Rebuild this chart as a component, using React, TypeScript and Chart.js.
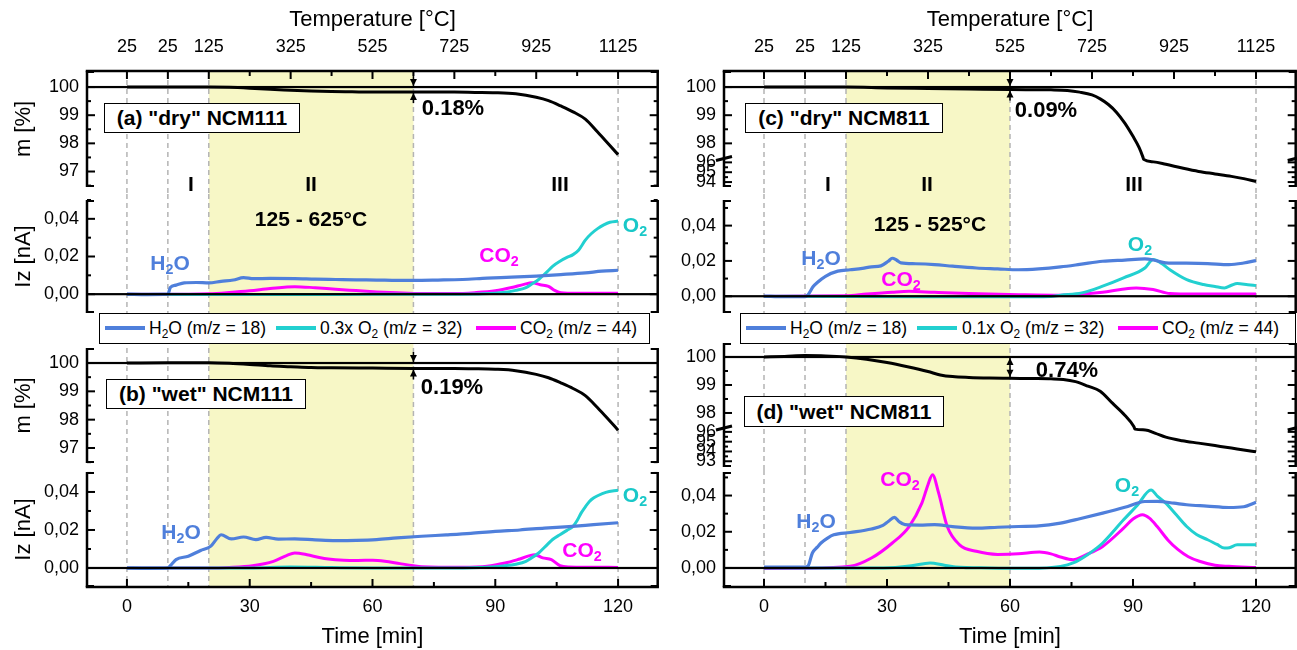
import React, { useEffect, useRef } from "react";
import { Chart, registerables } from "chart.js";

Chart.register(...registerables);

const FONT = "'Liberation Sans', Arial, Helvetica, sans-serif";
Chart.defaults.font.family = FONT;

const C_H2O = "#4f7fdb";
const C_O2 = "#22d0d0";
const C_O2_TXT = "#19c8c8";
const C_CO2 = "#ff00ff";
const BAND = "#f7f7c6";

// ---------- axis ticks ----------
const timeTicks = [0, 30, 60, 90, 120];
const timeMinor = [15, 45, 75, 105];
const tempTickTimes = [0, 10, 20, 40, 60, 80, 100, 120];
const tempLabels = ["25", "25", "125", "325", "525", "725", "925", "1125"];
const tempMinor = [30, 50, 70, 90, 110];
const dashTimesLeft = [0, 10, 20, 70, 120];
const dashTimesRight = [0, 10, 20, 60, 120];
const massTicksAB = [100, 99, 98, 97];
const massMinorAB = [99.5, 98.5, 97.5, 96.5];
const massTicksC = [100, 99, 98, 96, 95, 94];
const massMinorC = [99.5, 98.5, 95.5, 94.5];
const massTicksD = [100, 99, 98, 96, 95, 94, 93];
const massMinorD = [99.5, 98.5, 95.5, 94.5, 93.5];
const ionTicks = [0, 0.02, 0.04];
const ionMinor = [0.01, 0.03, 0.05];

// ---------- (a) "dry" NCM111 ----------
const aMassT = [0, 10, 20, 25, 30, 35, 40, 45, 50, 55, 60, 70, 80, 85, 90, 95, 100, 103, 106, 109, 112, 115, 118, 120];
const aMass = [100.0, 100.0, 100.0, 99.99, 99.96, 99.92, 99.89, 99.86, 99.84, 99.83, 99.82, 99.82, 99.82, 99.81, 99.8, 99.76, 99.64, 99.52, 99.33, 99.12, 98.86, 98.4, 97.92, 97.6];
const aH2OT = [0, 5, 10, 10.6, 12, 14, 17, 20, 23, 26, 28.5, 31, 35, 41, 46, 51, 56, 61, 66, 70, 76, 82, 88, 94, 100, 106, 112, 116, 120];
const aH2O = [0, -0.0002, 0, 0.0035, 0.0048, 0.006, 0.0062, 0.006, 0.0068, 0.0075, 0.0088, 0.0082, 0.0084, 0.0083, 0.008, 0.0078, 0.0076, 0.0075, 0.0073, 0.0073, 0.0075, 0.0078, 0.0085, 0.009, 0.0096, 0.0104, 0.0113, 0.0122, 0.0127];
const aO2T = [0, 20, 40, 60, 80, 87, 92, 95, 97.5, 99, 100.6, 102.7, 104, 105.8, 107.5, 109, 110.4, 112, 113.5, 115, 116.5, 118, 120];
const aO2 = [0, -0.0002, -0.0002, -0.0001, 0, 0.0002, 0.0009, 0.002, 0.0035, 0.0055, 0.0078, 0.012, 0.0148, 0.0175, 0.0195, 0.021, 0.0235, 0.0287, 0.0322, 0.0348, 0.0368, 0.0382, 0.0388];
const aCO2T = [0, 15, 20, 25, 30, 35, 41, 46, 51, 56, 61, 66, 72, 80, 85, 90, 94, 97, 99, 101, 103, 104.5, 106, 110, 120];
const aCO2 = [0, 0, 0.0002, 0.0009, 0.0018, 0.003, 0.004, 0.0034, 0.0026, 0.0019, 0.0012, 0.0007, 0.0003, 0.0003, 0.0008, 0.0018, 0.0035, 0.0052, 0.006, 0.005, 0.0042, 0.002, 0.0008, 0.0005, 0.0005];

// ---------- (b) "wet" NCM111 ----------
const bMassT = [0, 10, 20, 25, 30, 35, 40, 45, 50, 60, 70, 80, 85, 90, 95, 100, 103, 106, 109, 112, 115, 118, 120];
const bMass = [100.0, 100.01, 100.01, 99.99, 99.95, 99.9, 99.87, 99.84, 99.83, 99.82, 99.81, 99.81, 99.8, 99.78, 99.73, 99.6, 99.48, 99.3, 99.1, 98.85, 98.42, 97.95, 97.63];
const bH2OT = [0, 5, 10, 10.6, 12, 15, 18, 20.5, 22, 23, 25.5, 28.5, 31.5, 34, 37, 41, 46, 51, 56, 61, 66, 72, 78, 84, 90, 96, 102, 108, 114, 120];
const bH2O = [0, -0.0002, 0, 0.0012, 0.0044, 0.0062, 0.0092, 0.0115, 0.0155, 0.0175, 0.0153, 0.0163, 0.0149, 0.0161, 0.0152, 0.0153, 0.0148, 0.0144, 0.0145, 0.0149, 0.0158, 0.0167, 0.0174, 0.0182, 0.0193, 0.02, 0.021, 0.0218, 0.0228, 0.0238];
const bO2T = [0, 30, 40, 50, 60, 80, 88, 92.4, 95, 97.5, 99, 100.6, 102.7, 104, 105.8, 107.5, 109, 110, 111, 112, 113, 114, 115, 117, 120];
const bO2 = [0, 0, 0.0005, 0.0002, 0, 0, 0.0004, 0.0012, 0.002, 0.0035, 0.0055, 0.0079, 0.0123, 0.015, 0.0175, 0.0198, 0.0219, 0.025, 0.029, 0.0322, 0.035, 0.0368, 0.038, 0.0398, 0.0409];
const bCO2T = [0, 20, 25, 30.7, 35.8, 39, 41, 44, 47, 49.2, 53, 56.4, 60, 63, 66.7, 70, 72, 82, 88, 92.4, 96, 99.6, 101.6, 103.7, 105.8, 108, 113, 120];
const bCO2 = [0, 0, 0.0003, 0.0012, 0.0035, 0.0065, 0.0079, 0.007, 0.0055, 0.0047, 0.0041, 0.004, 0.0041, 0.0036, 0.0023, 0.0012, 0.0007, 0.0004, 0.0009, 0.0026, 0.0047, 0.007, 0.0053, 0.0044, 0.0012, 0.0005, 0.0004, 0.0003];

// ---------- (c) "dry" NCM811 ----------
const cMassT = [0, 20, 30, 40, 50, 60, 70, 74, 77, 80, 82, 84, 86, 88, 90, 91.5, 92.4, 92.6, 95, 98, 102, 106, 110, 114, 117, 120];
const cMass = [100.0, 100.0, 99.97, 99.95, 99.93, 99.91, 99.9, 99.88, 99.82, 99.72, 99.58, 99.38, 99.1, 98.72, 98.25, 97.85, 97.52, 96.3, 96.05, 95.8, 95.42, 95.08, 94.83, 94.58, 94.35, 94.06];
const cH2OT = [0, 5, 10, 10.8, 12, 13, 15, 18, 21, 24, 26.2, 28.5, 30.3, 31.3, 32.3, 33.4, 37, 41.6, 46, 51.8, 57, 62, 67, 72.3, 77, 82.6, 88, 92.9, 95, 98, 103, 108.2, 113.4, 117, 120];
const cH2O = [0, -0.0003, -0.0003, 0.001, 0.0055, 0.0078, 0.0113, 0.0142, 0.015, 0.0158, 0.0166, 0.0172, 0.0198, 0.0215, 0.0205, 0.0189, 0.0184, 0.0179, 0.017, 0.016, 0.0155, 0.015, 0.0155, 0.0166, 0.018, 0.0198, 0.0205, 0.0211, 0.0205, 0.0189, 0.0187, 0.0185, 0.0179, 0.0188, 0.0202];
const cO2T = [0, 20, 40, 60, 70, 72.3, 77.5, 82.6, 87.7, 92.9, 94.9, 97, 99, 103.1, 107.2, 110, 112.3, 114, 115.4, 118, 120];
const cO2 = [0, -0.0002, -0.0003, -0.0003, -0.0001, 0.0006, 0.0019, 0.0057, 0.0104, 0.016, 0.0208, 0.0185, 0.015, 0.0094, 0.0066, 0.0055, 0.0047, 0.0062, 0.0072, 0.0065, 0.006];
const cCO2T = [0, 20, 25, 31.3, 35.4, 41.6, 50, 62.1, 72.3, 82.6, 87, 90.8, 94.9, 99, 105, 120];
const cCO2 = [0, 0.0002, 0.0012, 0.0023, 0.0028, 0.0022, 0.0015, 0.0009, 0.0006, 0.0023, 0.0038, 0.0047, 0.0038, 0.0015, 0.0012, 0.0013];

// ---------- (d) "wet" NCM811 ----------
const dMassT = [0, 5, 10, 15, 20, 25, 30, 35, 40, 43, 46, 50, 55, 60, 65, 70, 73, 76, 79, 82, 85, 88, 90.2, 90.5, 93, 95.5, 98, 102, 106, 110, 114, 117, 120];
const dMass = [100.0, 100.02, 100.05, 100.04, 100.0, 99.92, 99.8, 99.65, 99.48, 99.36, 99.3, 99.27, 99.25, 99.24, 99.23, 99.22, 99.2, 99.12, 98.96, 98.78, 98.35, 97.92, 97.52, 96.28, 96.2, 95.85, 95.46, 95.1, 94.85, 94.6, 94.35, 94.15, 93.97];
const dH2OT = [0, 5, 10, 10.8, 11.8, 13, 13.9, 15.5, 17, 21, 26.2, 29, 30.3, 31.8, 33, 34.4, 38, 41.6, 46, 51.8, 57, 62.1, 67, 72.3, 77, 82.6, 88, 92.9, 96, 100, 103.1, 108, 113.4, 117, 120];
const dH2O = [0.0005, 0.0005, 0.0005, 0.0013, 0.0083, 0.0115, 0.0138, 0.0165, 0.0183, 0.0196, 0.0215, 0.0235, 0.0257, 0.028, 0.0255, 0.0239, 0.0237, 0.0239, 0.0228, 0.022, 0.0225, 0.0229, 0.0232, 0.0248, 0.0272, 0.0303, 0.0335, 0.0367, 0.0368, 0.0358, 0.0349, 0.0342, 0.0334, 0.0338, 0.0363];
const dO2T = [0, 25, 32, 36, 40.5, 44, 46.7, 55, 65, 72.3, 75.4, 79, 82.6, 87.7, 91, 94.4, 96, 98, 100.5, 103.1, 105.5, 108.2, 110.5, 112.3, 113.5, 115.4, 118, 120];
const dO2 = [0, 0, 0.0003, 0.0012, 0.0028, 0.0015, 0.0006, 0, -0.0002, 0.0009, 0.0028, 0.0075, 0.0138, 0.0266, 0.0345, 0.0431, 0.0395, 0.0358, 0.0295, 0.0229, 0.0185, 0.0156, 0.013, 0.011, 0.0112, 0.0128, 0.0128, 0.0128];
const dCO2T = [0, 10, 21, 26.2, 31.3, 35.4, 38.5, 40, 41.1, 42.6, 44.7, 47.7, 51.8, 57, 62, 67.2, 70, 72.3, 75.4, 78.5, 82.6, 87.7, 90, 92.3, 94, 95.9, 98.5, 101, 103.5, 106.2, 110, 113.4, 120];
const dCO2 = [-0.0003, -0.0002, 0.0009, 0.0055, 0.0138, 0.0229, 0.0358, 0.046, 0.0515, 0.0413, 0.0229, 0.0128, 0.0092, 0.0075, 0.0078, 0.0088, 0.0078, 0.0061, 0.0046, 0.0073, 0.0119, 0.022, 0.027, 0.0294, 0.0275, 0.0229, 0.0155, 0.0101, 0.0062, 0.0037, 0.0015, 0.0009, 0.0002];

// mass-loss annotations
const dropA = { t: 70, v1: 100, v2: 99.82, inner: false };
const dropB = { t: 70, v1: 100, v2: 99.81, inner: false };
const dropC = { t: 60, v1: 100, v2: 99.91, inner: false };
const dropD = { t: 60, v1: 100, v2: 99.26, inner: true };

// axis break for the NCM811 mass panels
const BRK = { hi: 97.5, lo: 96.3, dLo: 97.43, k: 0.35 };

function brkMap(m: number, b: any): number {
  if (!b) return m;
  if (m >= b.hi) return m;
  if (m >= b.lo) return b.dLo + ((m - b.lo) / (b.hi - b.lo)) * (b.hi - b.dLo);
  return b.dLo - (b.lo - m) * b.k;
}

function hline(ctx: any, x0: number, x1: number, y: number, w: number) {
  ctx.fillRect(Math.min(x0, x1), y - w / 2, Math.abs(x1 - x0), w);
}
function vline(ctx: any, x: number, y0: number, y1: number, w: number) {
  ctx.fillRect(x - w / 2, Math.min(y0, y1), w, Math.abs(y1 - y0));
}

const framePlugin: any = {
  id: "frame",
  beforeDatasetsDraw(chart: any, _a: any, o: any) {
    const { ctx, chartArea: a } = chart;
    const xs = chart.scales.x;
    const y0 = o.bandTop === "area" ? a.top : 0;
    const y1 = o.bandBottom === "area" ? a.bottom : chart.height;
    ctx.save();
    ctx.fillStyle = BAND;
    const b0 = xs.getPixelForValue(o.band[0]);
    const b1 = xs.getPixelForValue(o.band[1]);
    ctx.fillRect(b0, y0, b1 - b0, y1 - y0);
    ctx.strokeStyle = "#b4b4b4";
    ctx.lineWidth = 1.5;
    ctx.setLineDash([5, 4]);
    for (const t of o.dashes) {
      const px = xs.getPixelForValue(t);
      ctx.beginPath();
      ctx.moveTo(px, y0);
      ctx.lineTo(px, y1);
      ctx.stroke();
    }
    ctx.restore();
  },
  afterDraw(chart: any, _a: any, o: any) {
    const ctx = chart.ctx;
    const a = chart.chartArea;
    const xs = chart.scales.x;
    const ys = chart.scales.y;
    const brk = o.brk;
    const py = (v: number) => ys.getPixelForValue(brkMap(v, brk));
    const L = a.left + 1;
    const R = a.right - 1.3;
    const T = a.top;
    const B = a.bottom;
    ctx.save();
    ctx.setLineDash([]);
    ctx.globalAlpha = 1;
    ctx.fillStyle = "#000";
    ctx.strokeStyle = "#000";
    // reference line
    hline(ctx, L, R, py(o.refY), 2.2);
    // spines
    vline(ctx, L, T, B, 2.5);
    vline(ctx, R, T, B, 2.5);
    // bracket ends
    hline(ctx, L, L + 7, T + 1, 2);
    hline(ctx, L, L + 7, B - 1, 2);
    hline(ctx, R, R - 7, T + 1, 2);
    hline(ctx, R, R - 7, B - 1, 2);
    // y ticks
    const majors: number[] = Array.from(o.yMajor);
    const minors: number[] = Array.from(o.yMinor);
    for (const v of majors) {
      const y = py(v);
      if (y < T - 0.5 || y > B + 0.5) continue;
      hline(ctx, L, L + 8, y, 2);
      hline(ctx, R, R - 8, y, 2);
    }
    for (const v of minors) {
      const y = py(v);
      if (y < T - 0.5 || y > B + 0.5) continue;
      hline(ctx, L, L + 4, y, 2);
      hline(ctx, R, R - 4, y, 2);
    }
    if (o.top) {
      hline(ctx, L - 1.25, R + 1.25, T, 2.5);
      for (const t of tempTickTimes) vline(ctx, xs.getPixelForValue(t), T, T + 8, 2);
      for (const t of tempMinor) vline(ctx, xs.getPixelForValue(t), T, T + 5, 2);
    }
    if (o.bottom) {
      hline(ctx, L - 1.25, R + 1.25, B, 2.5);
      for (const t of timeTicks) vline(ctx, xs.getPixelForValue(t), B, B - 8, 2);
      for (const t of timeMinor) vline(ctx, xs.getPixelForValue(t), B, B - 5, 2);
    }
    // axis break marks
    if (brk) {
      const yb = ys.getPixelForValue((brk.hi + brk.dLo) / 2);
      ctx.lineWidth = 3;
      ctx.beginPath();
      for (const sx of [L, R]) {
        ctx.moveTo(sx - 8, yb + 2);
        ctx.lineTo(sx + 8, yb - 2);
      }
      ctx.stroke();
    }
    // mass-loss arrows
    const ar = o.arrow;
    if (ar) {
      const x = xs.getPixelForValue(ar.t);
      const p1 = py(ar.v1);
      const p2 = py(ar.v2);
      const head = (tipY: number, dir: number) => {
        ctx.beginPath();
        ctx.moveTo(x, tipY);
        ctx.lineTo(x - 3.5, tipY - dir * 7);
        ctx.lineTo(x + 3.5, tipY - dir * 7);
        ctx.closePath();
        ctx.fill();
      };
      if (ar.inner) {
        vline(ctx, x, p1, p2, 1.5);
        head(p1 + 1, -1);
        head(p2 - 1, 1);
      } else {
        vline(ctx, x, p1 - 11, p1, 1.5);
        vline(ctx, x, p2, p2 + 11, 1.5);
        head(p1 - 1, 1);
        head(p2 + 1, -1);
      }
    }
    ctx.restore();
  },
};

type Series = { t: number[]; v: number[]; color: string; width: number };
type PanelDef = {
  box: number[];
  area: { L: number; T: number; R: number; B: number };
  yMin: number;
  yMax: number;
  kind: "mass" | "ion";
  yLabels: number[];
  yMinor: number[];
  brk: any;
  series: Series[];
  top: boolean;
  bottom: boolean;
  yTitle: string | null;
  refY: number;
  band: number[];
  dashes: number[];
  bandTop: string;
  bandBottom: string;
  arrow: any;
};

const ionSeries = (ht: number[], h: number[], ot: number[], ov: number[], ct: number[], cv: number[]): Series[] => [
  { t: ht, v: h, color: C_H2O, width: 3.2 },
  { t: ot, v: ov, color: C_O2, width: 3 },
  { t: ct, v: cv, color: C_CO2, width: 3 },
];

const LEFT_AREA = { L: 86, R: 659 };
const RIGHT_AREA = { L: 723, R: 1297 };

const panels: PanelDef[] = [
  {
    box: [0, 0, 662, 194], area: { ...LEFT_AREA, T: 71, B: 187 }, yMin: 96.45, yMax: 100.57, kind: "mass",
    yLabels: massTicksAB, yMinor: massMinorAB, brk: null, series: [{ t: aMassT, v: aMass, color: "#000", width: 3 }],
    top: true, bottom: false, yTitle: "m [%]", refY: 100, band: [20, 70], dashes: dashTimesLeft, bandTop: "area", bandBottom: "canvas", arrow: dropA,
  },
  {
    box: [0, 194, 662, 136], area: { ...LEFT_AREA, T: 200, B: 313 }, yMin: -0.01, yMax: 0.05, kind: "ion",
    yLabels: ionTicks, yMinor: ionMinor, brk: null, series: ionSeries(aH2OT, aH2O, aO2T, aO2, aCO2T, aCO2),
    top: false, bottom: false, yTitle: "Iz [nA]", refY: 0, band: [20, 70], dashes: dashTimesLeft, bandTop: "canvas", bandBottom: "canvas", arrow: null,
  },
  {
    box: [0, 330, 662, 138], area: { ...LEFT_AREA, T: 348, B: 463 }, yMin: 96.47, yMax: 100.53, kind: "mass",
    yLabels: massTicksAB, yMinor: massMinorAB, brk: null, series: [{ t: bMassT, v: bMass, color: "#000", width: 3 }],
    top: false, bottom: false, yTitle: "m [%]", refY: 100, band: [20, 70], dashes: dashTimesLeft, bandTop: "canvas", bandBottom: "canvas", arrow: dropB,
  },
  {
    box: [0, 468, 662, 182], area: { ...LEFT_AREA, T: 472, B: 587 }, yMin: -0.01, yMax: 0.0505, kind: "ion",
    yLabels: ionTicks, yMinor: ionMinor, brk: null, series: ionSeries(bH2OT, bH2O, bO2T, bO2, bCO2T, bCO2),
    top: false, bottom: true, yTitle: "Iz [nA]", refY: 0, band: [20, 70], dashes: dashTimesLeft, bandTop: "canvas", bandBottom: "area", arrow: null,
  },
  {
    box: [662, 0, 635, 194], area: { ...RIGHT_AREA, T: 71, B: 187 }, yMin: 96.45, yMax: 100.57, kind: "mass",
    yLabels: massTicksC, yMinor: massMinorC, brk: BRK, series: [{ t: cMassT, v: cMass, color: "#000", width: 3 }],
    top: true, bottom: false, yTitle: null, refY: 100, band: [20, 60], dashes: dashTimesRight, bandTop: "area", bandBottom: "canvas", arrow: dropC,
  },
  {
    box: [662, 194, 635, 136], area: { ...RIGHT_AREA, T: 200, B: 313 }, yMin: -0.0095, yMax: 0.0545, kind: "ion",
    yLabels: ionTicks, yMinor: ionMinor, brk: null, series: ionSeries(cH2OT, cH2O, cO2T, cO2, cCO2T, cCO2),
    top: false, bottom: false, yTitle: null, refY: 0, band: [20, 60], dashes: dashTimesRight, bandTop: "canvas", bandBottom: "canvas", arrow: null,
  },
  {
    box: [662, 330, 635, 140], area: { ...RIGHT_AREA, T: 343, B: 467 }, yMin: 96.07, yMax: 100.5, kind: "mass",
    yLabels: massTicksD, yMinor: massMinorD, brk: BRK, series: [{ t: dMassT, v: dMass, color: "#000", width: 3 }],
    top: false, bottom: false, yTitle: null, refY: 100, band: [20, 60], dashes: dashTimesRight, bandTop: "canvas", bandBottom: "canvas", arrow: dropD,
  },
  {
    box: [662, 470, 635, 180], area: { ...RIGHT_AREA, T: 472, B: 587 }, yMin: -0.0105, yMax: 0.053, kind: "ion",
    yLabels: ionTicks, yMinor: ionMinor, brk: null, series: ionSeries(dH2OT, dH2O, dO2T, dO2, dCO2T, dCO2),
    top: false, bottom: true, yTitle: null, refY: 0, band: [20, 60], dashes: dashTimesRight, bandTop: "canvas", bandBottom: "area", arrow: null,
  },
];

const zeroPad = (s: any) => {
  s.paddingTop = 0;
  s.paddingBottom = 0;
  s.paddingLeft = 0;
  s.paddingRight = 0;
};

function PanelChart({ p }: { p: PanelDef }) {
  const ref = useRef<HTMLCanvasElement>(null);
  const [cx, cy, cw, ch] = p.box;
  useEffect(() => {
    const { L, T, R, B } = p.area;
    const fmt = p.kind === "mass" ? (v: number) => String(v) : (v: number) => v.toFixed(2).replace(".", ",");
    const tickFont = { family: FONT, size: 18 };
    const titleFont = { family: FONT, size: 22 };
    const scales: any = {
      x: {
        type: "linear", min: -10, max: 130, position: "bottom", display: p.bottom,
        grid: { display: false, drawTicks: false }, border: { display: false },
        ticks: { autoSkip: false, maxRotation: 0, minRotation: 0, padding: 9, color: "#000", font: tickFont },
        afterBuildTicks: (s: any) => { s.ticks = timeTicks.map((v) => ({ value: v })); },
        title: { display: p.bottom, text: "Time [min]", color: "#000", font: titleFont, padding: { top: 0, bottom: 0 } },
        afterFit: (s: any) => { zeroPad(s); if (p.bottom) s.height = cy + ch - B; },
      },
      y: {
        type: "linear", position: "left", min: p.yMin, max: p.yMax,
        grid: { display: false, drawTicks: false }, border: { display: false },
        ticks: {
          autoSkip: false, padding: 7, color: "#000", font: tickFont,
          callback: (_v: any, i: number, ticks: any[]) => ticks[i].lbl,
        },
        afterBuildTicks: (s: any) => { s.ticks = p.yLabels.map((v) => ({ value: brkMap(v, p.brk), lbl: fmt(v) })); },
        afterFit: (s: any) => { zeroPad(s); s.width = L - cx; },
        title: { display: !!p.yTitle, text: p.yTitle || "", color: "#000", font: titleFont, padding: { top: 11, bottom: 0 } },
      },
    };
    if (p.top) {
      scales.xt = {
        type: "linear", axis: "x", position: "top", min: -10, max: 130,
        grid: { display: false, drawTicks: false }, border: { display: false },
        ticks: {
          autoSkip: false, maxRotation: 0, minRotation: 0, padding: 13, color: "#000", font: tickFont,
          callback: (_v: any, i: number, ticks: any[]) => ticks[i].lbl,
        },
        afterBuildTicks: (s: any) => { s.ticks = tempTickTimes.map((t, i) => ({ value: t, lbl: tempLabels[i] })); },
        title: { display: true, text: "Temperature [°C]", color: "#000", font: titleFont, padding: { top: 7, bottom: 0 } },
        afterFit: (s: any) => { zeroPad(s); s.height = T - cy; },
      };
    }
    const chart = new Chart(ref.current as HTMLCanvasElement, {
      type: "line",
      data: {
        datasets: p.series.map((s) => ({
          data: s.t.map((t, i) => ({ x: t, y: brkMap(s.v[i], p.brk) })),
          borderColor: s.color,
          borderWidth: s.width,
          pointRadius: 0,
          fill: false,
          cubicInterpolationMode: "monotone",
        })),
      },
      options: {
        responsive: false,
        animation: false,
        devicePixelRatio: 1,
        events: [],
        layout: {
          padding: {
            left: 0,
            right: cx + cw - R,
            top: p.top ? 0 : T - cy,
            bottom: p.bottom ? 0 : cy + ch - B,
          },
        },
        scales,
        plugins: {
          legend: { display: false },
          tooltip: { enabled: false },
          frame: {
            band: p.band, dashes: p.dashes, bandTop: p.bandTop, bandBottom: p.bandBottom,
            refY: p.refY, yMajor: p.yLabels, yMinor: p.yMinor, brk: p.brk,
            top: p.top, bottom: p.bottom, arrow: p.arrow,
          },
        },
      } as any,
      plugins: [framePlugin],
    });
    return () => chart.destroy();
  }, []);
  return (
    <canvas
      ref={ref}
      width={cw}
      height={ch}
      style={{ position: "absolute", left: cx, top: cy, width: cw, height: ch, display: "block" }}
    />
  );
}

const Sub = ({ children }: { children: any }) => (
  <sub style={{ fontSize: "0.68em", verticalAlign: "-0.32em", lineHeight: 0 }}>{children}</sub>
);

function Txt({ x, y, size = 21, color = "#000", bold = true, children }: any) {
  return (
    <div
      style={{
        position: "absolute", left: x, top: y, transform: "translate(-50%, -50%)",
        fontFamily: FONT, fontSize: size, fontWeight: bold ? 700 : 400, color,
        whiteSpace: "nowrap", lineHeight: 1,
      }}
    >
      {children}
    </div>
  );
}

function Box({ x, y, w, h, children }: any) {
  return (
    <div
      style={{
        position: "absolute", left: x, top: y, width: w, height: h, boxSizing: "border-box",
        border: "1.5px solid #000", background: "#fff", display: "flex", alignItems: "center",
        justifyContent: "center", fontFamily: FONT, fontSize: 21, fontWeight: 700, whiteSpace: "nowrap",
      }}
    >
      {children}
    </div>
  );
}

function Legend({ x, y, w, items }: any) {
  return (
    <div
      style={{
        position: "absolute", left: x, top: y, width: w, height: 31, boxSizing: "border-box",
        border: "1.5px solid #000", background: "#fff", fontFamily: FONT, fontSize: 17.5,
      }}
    >
      {items.map((it: any, i: number) => (
        <React.Fragment key={i}>
          <div style={{ position: "absolute", left: it.lx, top: 12, width: 40, height: 4, background: it.color }} />
          <div style={{ position: "absolute", left: it.tx, top: 4, whiteSpace: "nowrap", lineHeight: "20px" }}>{it.text}</div>
        </React.Fragment>
      ))}
    </div>
  );
}

export default function App() {
  const legendLeft = [
    { lx: 5, tx: 49, color: C_H2O, text: <>H<Sub>2</Sub>O (m/z = 18)</> },
    { lx: 176, tx: 220, color: C_O2, text: <>0.3x O<Sub>2</Sub> (m/z = 32)</> },
    { lx: 376, tx: 420, color: C_CO2, text: <>CO<Sub>2</Sub> (m/z = 44)</> },
  ];
  const legendRight = [
    { lx: 5, tx: 49, color: C_H2O, text: <>H<Sub>2</Sub>O (m/z = 18)</> },
    { lx: 176, tx: 221, color: C_O2, text: <>0.1x O<Sub>2</Sub> (m/z = 32)</> },
    { lx: 377, tx: 421, color: C_CO2, text: <>CO<Sub>2</Sub> (m/z = 44)</> },
  ];
  return (
    <div style={{ position: "fixed", left: 0, top: 0, width: 1297, height: 650, background: "#fff", overflow: "hidden" }}>
      {panels.map((p, i) => (
        <PanelChart key={i} p={p} />
      ))}

      {/* left column annotations */}
      <Box x={104} y={103} w={196} h={30}>(a) "dry" NCM111</Box>
      <Txt x={453} y={108} size={22}>0.18%</Txt>
      <Txt x={191} y={183}>I</Txt>
      <Txt x={311} y={183}>II</Txt>
      <Txt x={560} y={183}>III</Txt>
      <Txt x={311} y={218}>125 - 625°C</Txt>
      <Txt x={170} y={262} color={C_H2O}>H<Sub>2</Sub>O</Txt>
      <Txt x={499} y={254} color={C_CO2}>CO<Sub>2</Sub></Txt>
      <Txt x={635} y={224} color={C_O2_TXT}>O<Sub>2</Sub></Txt>
      <Legend x={99} y={313} w={551} items={legendLeft} />
      <Box x={106} y={379} w={200} h={30}>(b) "wet" NCM111</Box>
      <Txt x={452} y={387} size={22}>0.19%</Txt>
      <Txt x={181} y={531} color={C_H2O}>H<Sub>2</Sub>O</Txt>
      <Txt x={582} y={549} color={C_CO2}>CO<Sub>2</Sub></Txt>
      <Txt x={635} y={494} color={C_O2_TXT}>O<Sub>2</Sub></Txt>

      {/* right column annotations */}
      <Box x={745} y={103} w={198} h={30}>(c) "dry" NCM811</Box>
      <Txt x={1046} y={110} size={22}>0.09%</Txt>
      <Txt x={828} y={183}>I</Txt>
      <Txt x={927} y={183}>II</Txt>
      <Txt x={1134} y={183}>III</Txt>
      <Txt x={930} y={223}>125 - 525°C</Txt>
      <Txt x={821} y={257} color={C_H2O}>H<Sub>2</Sub>O</Txt>
      <Txt x={901} y={278} color={C_CO2}>CO<Sub>2</Sub></Txt>
      <Txt x={1140} y={243} color={C_O2_TXT}>O<Sub>2</Sub></Txt>
      <Legend x={740} y={313} w={556} items={legendRight} />
      <Box x={744} y={396} w={200} h={31}>(d) "wet" NCM811</Box>
      <Txt x={1067} y={370} size={22}>0.74%</Txt>
      <Txt x={816} y={520} color={C_H2O}>H<Sub>2</Sub>O</Txt>
      <Txt x={900} y={478} color={C_CO2}>CO<Sub>2</Sub></Txt>
      <Txt x={1127} y={484} color={C_O2_TXT}>O<Sub>2</Sub></Txt>
    </div>
  );
}
